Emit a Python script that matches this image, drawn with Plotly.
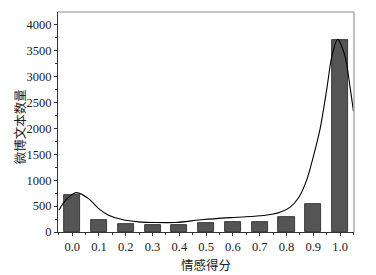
import plotly.graph_objects as go

# Bar data: sentiment score bins and counts of Weibo texts
scores = [0.0, 0.1, 0.2, 0.3, 0.4, 0.5, 0.6, 0.7, 0.8, 0.9, 1.0]
counts = [720, 240, 158, 138, 131, 170, 190, 202, 280, 543, 3710]

# Fitted curve
curve_x = [-0.05, -0.02, 0.016, 0.062, 0.1, 0.136, 0.186, 0.248, 0.31, 0.385,
           0.49, 0.615, 0.714, 0.776, 0.814, 0.845, 0.876, 0.9, 0.925, 0.95,
           0.969, 0.991, 1.019, 1.037, 1.05]
curve_y = [420, 640, 760, 640, 447, 324, 240, 196, 183, 183,
           240, 285, 318, 381, 480, 660, 1011, 1450, 1980, 2743,
           3384, 3720, 3384, 2806, 2330]

xtick_labels = ["0.0", "0.1", "0.2", "0.3", "0.4", "0.5", "0.6", "0.7", "0.8", "0.9", "1.0"]
ytick_vals = [0, 500, 1000, 1500, 2000, 2500, 3000, 3500, 4000]

font_fam = "Liberation Serif, Noto Sans CJK SC, serif"

fig = go.Figure()
fig.add_trace(go.Bar(
    x=scores, y=counts, width=0.06,
    marker=dict(color="#555555", line=dict(color="#222222", width=0.8)),
    showlegend=False,
))
fig.add_trace(go.Scatter(
    x=curve_x, y=curve_y, mode="lines",
    line=dict(color="black", width=1.1, shape="spline", smoothing=0.8),
    showlegend=False, cliponaxis=True,
))

fig.update_layout(
    width=376, height=275,
    margin=dict(l=50, r=30, t=4, b=51),
    plot_bgcolor="white", paper_bgcolor="white",
    font=dict(family=font_fam, size=12, color="#222222"),
    bargap=0,
    shapes=[
        dict(type="line", xref="paper", yref="paper", x0=0, x1=1, y0=1, y1=1,
             line=dict(color="#888888", width=1)),
        dict(type="line", xref="paper", yref="paper", x0=1, x1=1, y0=0, y1=1,
             line=dict(color="#aaaaaa", width=1.5)),
    ],
    annotations=[
        dict(text="微博文本数量", textangle=-90, showarrow=False,
             xref="paper", yref="paper", x=-0.128, y=0.477,
             xanchor="center", yanchor="middle", font=dict(size=12.5)),
    ],
)
fig.update_xaxes(
    range=[-0.053, 1.052], tickvals=scores, ticktext=xtick_labels,
    ticks="outside", ticklen=3, tickcolor="#333333",
    minor=dict(dtick=0.05, tick0=0, ticks="outside", ticklen=2, tickcolor="#333333"),
    showline=True, linecolor="#333333", linewidth=1, showgrid=False, zeroline=False,
    title=dict(text="情感得分", font=dict(size=12.5), standoff=8),
    tickfont=dict(size=12.5), automargin=False,
)
fig.update_yaxes(
    range=[0, 4245], tickvals=ytick_vals,
    ticks="outside", ticklen=3, tickcolor="#333333",
    minor=dict(dtick=250, tick0=0, ticks="outside", ticklen=2, tickcolor="#333333"),
    showline=True, linecolor="#333333", linewidth=1, showgrid=False, zeroline=False,
    tickfont=dict(size=12.5), automargin=False,
)

fig.write_html("out.html")
